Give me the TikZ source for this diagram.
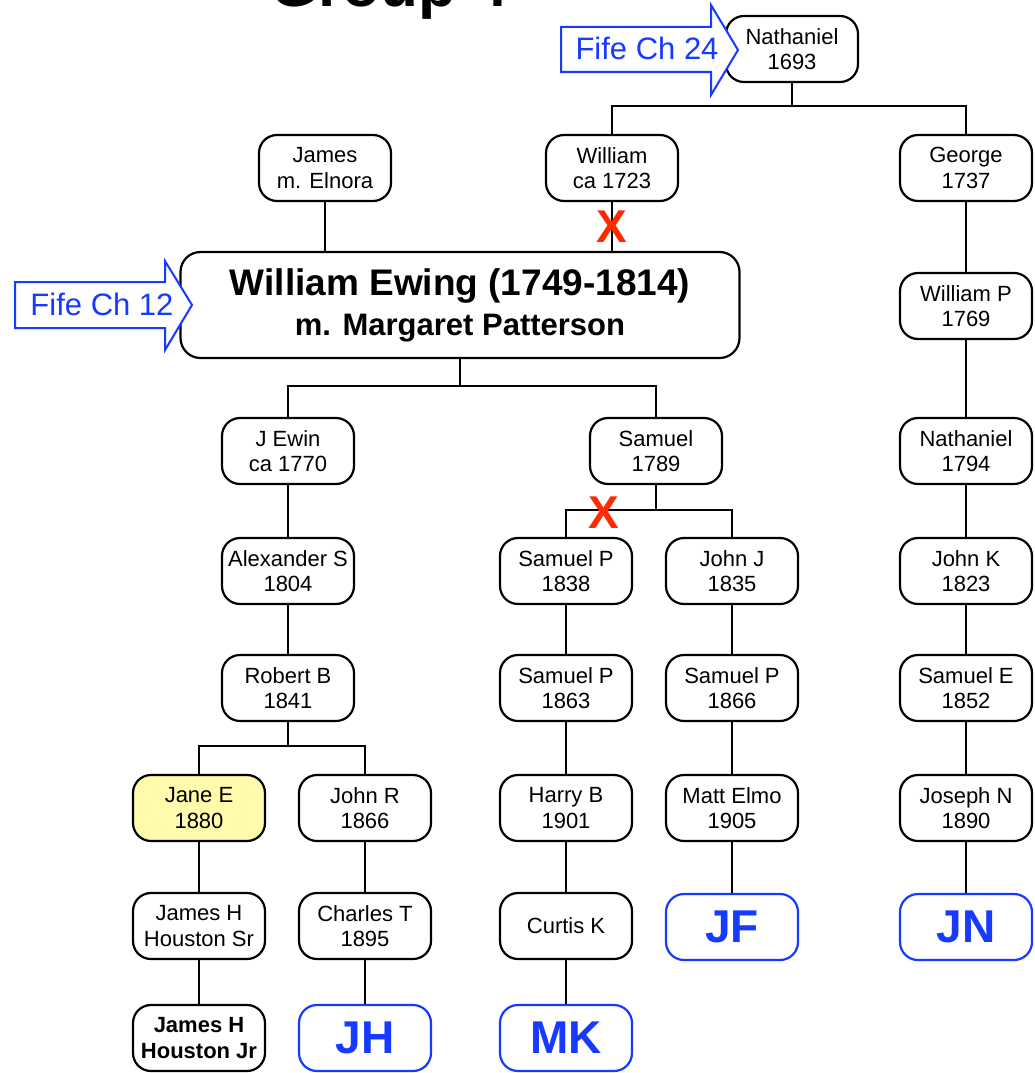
\documentclass[tikz,border=0pt]{standalone}
\usepackage{fontspec}
\setmainfont{Liberation Sans}
\usepackage{tikz}
\usetikzlibrary{
	positioning,									% 节点的高级摆放
	calc,											% 坐标计算
}
\definecolor{fifeblue}{RGB}{22,58,255}
\definecolor{crossred}{RGB}{255,42,0}
\definecolor{janeyellow}{RGB}{255,250,172}
\tikzset{
	person/.style={draw, fill=white, line width=2.2pt, rounded corners=18pt,
		minimum width=132pt, minimum height=66pt, inner sep=0pt, align=center,
		font=\fontsize{22}{25.5}\selectfont},
	line/.style={line width=2.2pt},
	tag/.style={person, draw=fifeblue, text=fifeblue, font=\bfseries\fontsize{46}{46}\selectfont},
	cross/.style={text=crossred, inner sep=0pt, font=\bfseries\fontsize{46}{46}\selectfont},
	fife/.style={draw=fifeblue, line width=2pt, fill=white, line join=miter},
}
\begin{document}
\begin{tikzpicture}[x=1pt, y=-1pt]
	\useasboundingbox (0,0) rectangle (1035,1073);
	\node[anchor=base west, inner sep=0pt, font=\bfseries\fontsize{62}{62}\selectfont] (title) at (270,7) {Group 4};
	% 顶部
	\node[person] (nath) at (792,49) {Nathaniel\\1693};
	\node[person] (james) at (325,168) {James\\m. Elnora};
	\node[person] (will) at (612,168) {William\\ca 1723};
	\node[person] (geo) at (966,168) {George\\1737};
	\node[draw, fill=white, line width=2.2pt, rounded corners=20pt, minimum width=559pt, minimum height=106pt,
		inner sep=0pt, align=center, font=\bfseries\fontsize{37}{39}\selectfont] (ewing) at (460,305)
		{William Ewing (1749-1814)\\[1pt]{\fontsize{31}{37}\selectfont m. Margaret Patterson}};
	% 右列
	\node[person] (willp) at (966,306) {William P\\1769};
	\node[person] (nath2) at (966,451) {Nathaniel\\1794};
	\node[person] (johnk) at (966,571) {John K\\1823};
	\node[person] (samuele) at (966,688) {Samuel E\\1852};
	\node[person] (joseph) at (966,808) {Joseph N\\1890};
	\node[tag] (jn) at (966,927) {JN};
	% 中列
	\node[person] (sam) at (656,451) {Samuel\\1789};
	\node[person] (samp) at (566,571) {Samuel P\\1838};
	\node[person] (johnj) at (732,571) {John J\\1835};
	\node[person] (samp2) at (566,688) {Samuel P\\1863};
	\node[person] (samp3) at (732,688) {Samuel P\\1866};
	\node[person] (harry) at (566,808) {Harry B\\1901};
	\node[person] (matt) at (732,808) {Matt Elmo\\1905};
	\node[person] (curtis) at (566,926) {Curtis K};
	\node[tag] (jf) at (732,927) {JF};
	\node[tag] (mk) at (566,1038) {MK};
	% 左列
	\node[person] (jewin) at (288,451) {J Ewin\\ca 1770};
	\node[person] (alex) at (288,571) {Alexander S\\1804};
	\node[person] (robert) at (288,688) {Robert B\\1841};
	\node[person, fill=janeyellow] (jane) at (199,808) {Jane E\\1880};
	\node[person] (johnr) at (365,808) {John R\\1866};
	\node[person] (jhsr) at (199,926) {James H\\Houston Sr};
	\node[person] (charles) at (365,926) {Charles T\\1895};
	\node[person, font=\bfseries\fontsize{22}{25.5}\selectfont] (jhjr) at (199,1038) {James H\\Houston Jr};
	\node[tag] (jh) at (365,1038) {JH};
	% 分支点
	\coordinate (j1) at (792,106);
	\coordinate (j2) at (460,386);
	\coordinate (j3) at (656,510);
	\coordinate (j4) at (288,746);
	\draw[line] (nath.south) -- (j1) -| (will.north);
	\draw[line] (j1) -| (geo.north);
	\draw[line] (james.south) -- (james.south |- ewing.north);
	\draw[line] (will.south) -- node[cross] (x1) {X} (will.south |- ewing.north);
	\draw[line] (ewing.south) -- (j2) -| (jewin.north);
	\draw[line] (j2) -| (sam.north);
	\draw[line] (sam.south) -- (j3) -| (samp.north);
	\draw[line] (j3) -| (johnj.north);
	\draw[line] (robert.south) -- (j4) -| (jane.north);
	\draw[line] (j4) -| (johnr.north);
	\node[cross] (x2) at (604,513) {X};
	\foreach \a/\b in {geo/willp, willp/nath2, nath2/johnk, johnk/samuele, samuele/joseph, joseph/jn,
		samp/samp2, samp2/harry, harry/curtis, curtis/mk, johnj/samp3, samp3/matt, matt/jf,
		jewin/alex, alex/robert, jane/jhsr, jhsr/jhjr, johnr/charles, charles/jh}
		\draw[line] (\a.south) -- (\b.north);
	% Fife 箭头
	\draw[fife] (561,27) -- (711,27) -- (711,5) -- (738,50) -- (711,95) -- (711,72) -- (561,72) -- cycle;
	\node[text=fifeblue, font=\fontsize{31}{31}\selectfont] (fife24) at (647,48) {Fife Ch 24};
	\draw[fife] (15,282) -- (165,282) -- (165,261) -- (192,305) -- (165,350) -- (165,328) -- (15,328) -- cycle;
	\node[text=fifeblue, font=\fontsize{31}{31}\selectfont] (fife12) at (102,304) {Fife Ch 12};
\end{tikzpicture}
\end{document}
